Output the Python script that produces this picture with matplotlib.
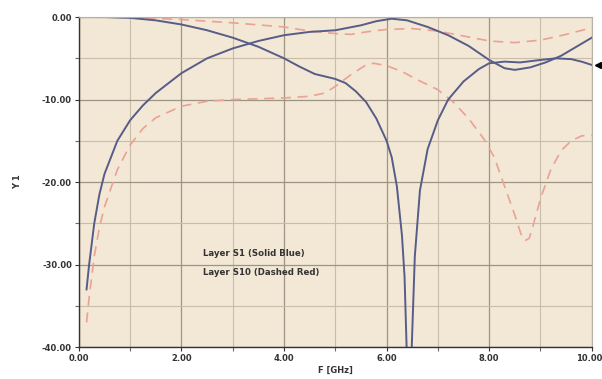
import numpy as np
import matplotlib
matplotlib.use("Agg")
import matplotlib.pyplot as plt
from matplotlib.ticker import MultipleLocator, FormatStrFormatter
from matplotlib.transforms import ScaledTranslation

# Layer S1 (solid blue) - two traces
s1a_f = [0.0, 0.5, 1.0, 1.5, 2.0, 2.5, 3.0, 3.5, 4.0, 4.3, 4.6, 5.0, 5.2, 5.4, 5.6, 5.8,
         6.0, 6.1, 6.2, 6.3, 6.35, 6.39, 6.44, 6.49, 6.55, 6.65, 6.8, 7.0, 7.2, 7.5, 7.8,
         8.0, 8.3, 8.6, 9.0, 9.3, 9.6, 9.8, 10.0]
s1a_y = [0.0, 0.0, -0.1, -0.4, -0.9, -1.6, -2.5, -3.6, -5.0, -6.0, -6.9, -7.5, -8.0, -9.0,
         -10.3, -12.3, -15.0, -17.0, -20.5, -26.5, -31.5, -40.0, -45.0, -40.0, -29.0, -21.0,
         -16.0, -12.5, -10.0, -7.8, -6.3, -5.6, -5.4, -5.5, -5.2, -5.0, -5.1, -5.4, -5.8]

s1b_f = [0.15, 0.2, 0.3, 0.4, 0.5, 0.75, 1.0, 1.25, 1.5, 2.0, 2.5, 3.0, 3.5, 4.0, 4.5, 5.0,
         5.5, 5.8, 6.1, 6.4, 6.8, 7.2, 7.6, 8.0, 8.3, 8.5, 8.8, 9.1, 9.4, 9.7, 10.0]
s1b_y = [-33.0, -30.0, -25.0, -21.5, -19.0, -15.0, -12.5, -10.7, -9.2, -6.8, -5.0, -3.8,
         -2.9, -2.2, -1.8, -1.6, -1.0, -0.5, -0.2, -0.4, -1.2, -2.2, -3.5, -5.2, -6.2, -6.4,
         -6.1, -5.5, -4.7, -3.6, -2.5]

# Layer S10 (dashed red) - two traces
s10a_f = [0.0, 1.0, 2.0, 3.0, 4.0, 4.5, 5.0, 5.3, 5.6, 6.0, 6.5, 7.0, 7.5, 8.0, 8.5, 9.0, 9.5, 10.0]
s10a_y = [0.0, -0.05, -0.3, -0.7, -1.2, -1.7, -2.0, -2.1, -1.8, -1.5, -1.4, -1.7, -2.3,
          -2.9, -3.1, -2.8, -2.1, -1.3]

s10b_f = [0.15, 0.2, 0.3, 0.4, 0.5, 0.75, 1.0, 1.25, 1.5, 2.0, 2.5, 3.0, 3.5, 4.0, 4.5, 4.8,
          5.0, 5.3, 5.6, 5.75, 6.0, 6.3, 6.6, 7.0, 7.3, 7.6, 7.9, 8.1, 8.3, 8.5, 8.62, 8.7,
          8.78, 8.86, 9.0, 9.2, 9.4, 9.6, 9.8, 10.0]
s10b_y = [-37.0, -34.0, -29.0, -25.5, -23.0, -18.5, -15.5, -13.5, -12.2, -10.8, -10.2, -10.0,
          -9.9, -9.8, -9.6, -9.2, -8.4, -7.0, -5.8, -5.6, -5.9, -6.6, -7.6, -8.8, -10.3,
          -12.3, -14.8, -17.0, -20.5, -24.0, -26.3, -27.1, -26.8, -25.2, -22.0, -18.5,
          -16.2, -15.0, -14.4, -14.3]

marker_y = -5.8

blue = "#575c88"
red = "#eaa292"

fig = plt.figure(figsize=(6.02, 3.79), dpi=100)
ax = fig.add_axes([0.131, 0.084, 0.852, 0.871])
ax.set_facecolor("#f3e7d5")

ax.set_xlim(0, 10)
ax.set_ylim(-40, 0)

ax.xaxis.set_major_locator(MultipleLocator(2))
ax.xaxis.set_minor_locator(MultipleLocator(1))
ax.yaxis.set_major_locator(MultipleLocator(10))
ax.yaxis.set_minor_locator(MultipleLocator(5))
ax.xaxis.set_major_formatter(FormatStrFormatter("%.2f"))
ax.yaxis.set_major_formatter(FormatStrFormatter("%.2f"))

ax.grid(which="major", color="#9d9484", lw=0.9)
ax.grid(which="minor", color="#c9bda9", lw=0.8)
ax.set_axisbelow(True)

ax.tick_params(which="both", length=3, width=0.8, color="#6a6a6a", pad=2)
ax.tick_params(labelsize=6, colors="#333333")

for s in ["top", "right"]:
    ax.spines[s].set_color("#b8b0a4")
for s in ["left", "bottom"]:
    ax.spines[s].set_color("#333333")
    ax.spines[s].set_linewidth(1.0)

ax.plot(s10a_f, s10a_y, color=red, lw=1.2, ls=(0, (6, 4)))
ax.plot(s10b_f, s10b_y, color=red, lw=1.2, ls=(0, (6, 4)))
ax.plot(s1a_f, s1a_y, color=blue, lw=1.4)
ax.plot(s1b_f, s1b_y, color=blue, lw=1.4)

ax.text(2.42, -28.7, "Layer S1 (Solid Blue)", fontsize=6.2, fontweight="bold",
        color="#333333", va="center")
ax.text(2.42, -30.9, "Layer S10 (Dashed Red)", fontsize=6.2, fontweight="bold",
        color="#333333", va="center")

ax.plot([10.12], [marker_y], marker="<", color="black", ms=4, clip_on=False)

ax.set_xlabel("F [GHz]", fontsize=6, fontweight="bold", color="#333333", labelpad=2)
ax.set_ylabel("Y 1", fontsize=6, fontweight="bold", color="#333333")
ax.yaxis.set_label_coords(-0.11, 0.5)

fig.canvas.draw()
for lab in ax.get_xticklabels() + ax.get_yticklabels():
    lab.set_fontweight("bold")
# keep the last x label inside the figure
xt = ax.xaxis.get_major_ticks()
last = [t for t in xt if abs(t.get_loc() - 10) < 1e-9][0].label1
last.set_horizontalalignment("right")
last.set_transform(last.get_transform() + ScaledTranslation(8 / 72, 0, fig.dpi_scale_trans))

fig.savefig("out.png", dpi=100, facecolor="white")
